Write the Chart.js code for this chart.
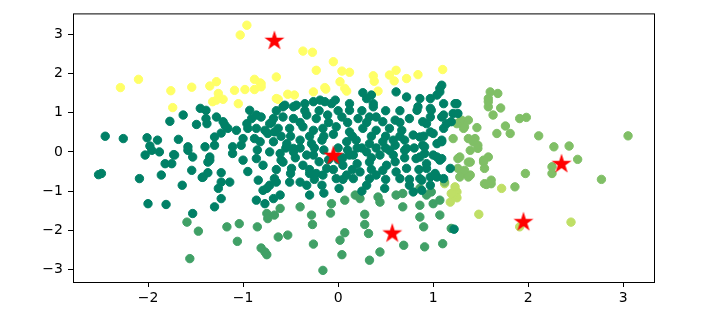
<!DOCTYPE html>
<html>
<head>
<meta charset="utf-8">
<script src="https://cdn.jsdelivr.net/npm/chart.js@4"></script>
<style>
  body { margin: 0; background: #fff; }
  #wrap { width: 720px; height: 315px; }
</style>
</head>
<body>
<div id="wrap"><canvas id="c" width="720" height="315"></canvas></div>
<script>
// k-means clusters, points as [x, y]
const yellowPts = [
  [-0.96,3.23],[-1.03,2.98],[-2.10,1.85],[-2.29,1.64],[-1.76,1.56],[-1.54,1.65],[-1.35,1.68],[-1.28,1.79],
  [-1.26,1.49],[-1.21,1.34],[-1.32,1.28],[-1.74,1.13],[-1.09,1.57],[-0.98,1.59],[-1.05,1.23],[-0.88,1.85],
  [-0.82,1.76],[-0.88,1.59],[-0.81,1.66],[-0.37,2.57],[-0.27,2.54],[-0.05,2.30],[-0.23,2.08],[-0.65,1.91],
  [-0.81,1.74],[0.04,2.06],[0.12,2.03],[0.02,1.79],[0.07,1.62],[0.09,1.55],[-0.13,1.60],[-0.26,1.53],
  [-0.53,1.47],[-0.46,1.45],[-0.63,1.34],[0.37,1.94],[0.38,1.80],[0.42,1.55],[0.54,1.96],[0.61,2.08],
  [0.59,1.81],[0.72,1.87],[0.84,1.97],[1.10,2.10],[-1.28,1.32],[-0.65,1.36],[-0.14,1.64]
];
const darkPts = [
  [-1.45,1.11],[-1.39,1.06],[-1.63,0.94],[-1.77,0.78],[-1.49,0.70],[-1.39,0.85],[-1.28,0.89],[-1.38,0.72],
  [-1.21,0.77],[-0.93,1.06],[-0.86,0.94],[-0.91,0.85],[-0.96,0.72],[-0.86,0.60],[-0.72,0.72],[-1.16,0.60],
  [-1.07,0.55],[-1.30,0.38],[-1.23,0.48],[-1.00,0.34],[-2.45,0.40],[-2.26,0.34],[-2.01,0.36],[-1.90,0.30],
  [-1.68,0.32],[-1.98,0.15],[-1.58,0.13],[-1.40,0.13],[-1.30,0.17],[-1.11,0.13],[-1.02,0.17],[-0.82,0.26],
  [-0.74,0.47],[-1.19,0.68],[-0.95,0.60],[-0.88,0.34],[-0.68,0.85],[-0.67,0.51],[-2.03,-0.08],[-1.88,0.00],
  [-1.72,-0.08],[-1.53,-0.13],[-1.35,-0.13],[-1.37,-0.26],[-1.11,-0.04],[-1.00,-0.21],[-0.86,-0.17],[-0.79,-0.34],
  [-0.72,0.00],[-1.82,-0.30],[-1.75,-0.30],[-1.54,-0.47],[-1.42,-0.64],[-1.37,-0.53],[-1.23,-0.53],[-1.23,-0.77],
  [-1.14,-0.77],[-2.49,-0.55],[-2.52,-0.58],[-2.09,-0.68],[-1.86,-0.59],[-1.64,-0.85],[-1.26,-0.93],[-1.23,-1.19],
  [-1.30,-1.40],[-2.00,-1.32],[-1.81,-1.34],[-1.53,-1.57],[-0.84,-0.72],[-0.79,-0.98],[-0.72,-0.85],[-0.68,-1.19],
  [-0.86,-1.23],[-0.77,-1.32],[-0.65,-0.77],[-1.96,0.04],[-1.73,-0.07],[-1.58,0.04],[-1.35,-0.21],[-1.43,-0.65],
  [-0.75,-0.93],[-0.67,-0.68],[-0.61,-1.10],[-0.60,-0.21],[-0.49,-0.42],[-0.47,0.09],[-0.40,-0.77],[-0.37,-0.34],
  [-0.30,-1.10],[-0.26,-0.08],[-0.23,-0.55],[-0.17,-0.85],[-0.12,-0.42],[-0.02,-0.68],[0.01,-0.93],[0.05,-0.34],
  [0.12,-0.08],[0.16,-0.68],[0.23,-0.51],[0.30,-0.85],[0.33,-0.26],[0.40,-0.59],[0.49,-0.93],[0.51,-0.34],
  [0.58,-0.08],[0.61,-0.51],[0.65,-0.68],[0.70,0.04],[0.72,-0.42],[0.82,-0.17],[0.86,-0.68],[0.91,-0.04],
  [0.93,-0.42],[1.00,-0.08],[1.09,-0.17],[1.02,-0.55],[1.11,-0.68],[-0.56,1.19],[-0.44,1.19],[-0.35,1.23],
  [-0.19,1.32],[-0.07,1.23],[0.12,1.23],[0.30,1.36],[0.37,1.23],[0.61,1.53],[0.72,1.40],[0.86,1.36],
  [0.97,1.36],[1.07,1.62],[1.04,1.45],[1.11,1.23],[0.83,1.06],[0.97,1.11],[-0.58,0.89],[-0.47,0.85],
  [-0.33,0.94],[-0.23,0.85],[-0.11,0.94],[0.04,0.89],[0.21,0.85],[0.33,0.89],[0.47,0.77],[0.60,0.81],
  [0.75,0.85],[0.89,0.77],[1.11,0.94],[1.19,0.77],[-0.63,0.60],[-0.51,0.60],[-0.37,0.64],[-0.26,0.55],
  [-0.16,0.60],[-0.02,0.64],[0.12,0.51],[0.26,0.60],[0.40,0.55],[0.54,0.60],[0.67,0.55],[0.79,0.43],
  [0.97,0.51],[1.11,0.60],[-0.68,0.26],[-0.54,0.21],[-0.40,0.30],[-0.28,0.21],[-0.17,0.30],[0.09,0.26],
  [0.19,0.30],[0.33,0.21],[0.47,0.26],[0.60,0.17],[0.72,0.09],[0.89,0.17],[1.04,0.21],[-0.61,-0.04],
  [-0.47,0.00],[-0.33,-0.08],[0.16,-0.08],[0.30,0.00],[0.44,-0.08],[0.54,0.04],[0.86,-0.13],[-0.58,-0.26],
  [-0.16,-0.59],[0.09,-0.59],[0.33,-0.68],[0.47,-0.47],[-0.51,-0.77],[-0.33,-0.85],[0.79,-1.02],[0.97,-0.85],
  [1.18,-0.42],[0.26,1.51],[0.35,1.45],[-0.14,1.28],[-0.03,1.32],[-0.26,1.28],[-0.47,1.15],[-0.58,1.15],
  [-0.81,0.89],[0.12,1.06],[0.37,1.15],[0.40,0.89],[0.84,1.15],[0.97,0.89],[-0.77,0.55],[0.86,0.38],
  [0.58,0.30],[1.09,0.30],[1.09,1.70],[1.07,1.53],[1.23,1.23],[1.21,0.98],[0.98,1.06],[0.93,0.72],
  [1.09,0.89],[1.14,0.72],[1.00,0.47],[1.09,0.26],[0.91,0.13],[1.04,-0.13],[1.07,-0.21],[0.93,-0.30],
  [0.97,-0.64],[1.04,-0.64],[0.88,-0.72],[0.88,-0.98],[1.25,1.23],[1.26,0.98],[1.22,-1.97],
  [-0.15,0.05],[0.00,0.10],[-0.05,0.45],[0.10,0.05],[-0.20,-0.25],[0.00,-0.20],[0.20,-0.30],[-0.10,-0.20],
  [0.20,0.10],[0.40,0.10],[0.70,0.30],[0.35,0.40],[-0.50,0.40],[-0.85,0.05],[-0.95,-0.50],[-0.50,-0.55],
  [-0.30,-0.55],[0.60,-0.25],[0.25,-1.00],[-0.15,-1.05],[0.75,-0.85],
  [-0.65,1.05],[-0.35,1.05],[-0.20,1.05],[0.00,1.05],[0.25,1.05],[0.50,1.05],[0.65,1.05],
  [-0.70,0.75],[-0.40,0.75],[-0.10,0.75],[0.10,0.75],[0.30,0.75],[0.65,0.75],
  [-0.60,0.40],[-0.30,0.40],[-0.15,0.40],[0.15,0.40],[0.50,0.40],[0.65,0.40],[0.90,0.40],
  [-0.55,0.10],[-0.40,0.10],[-0.25,0.10],[0.25,0.10],[0.50,0.10],[0.80,0.10],
  [-0.45,-0.15],[0.05,-0.15],[0.35,-0.15],[0.70,-0.15],
  [-0.65,-0.45],[-0.30,-0.45],[-0.05,-0.45],[0.15,-0.45],[0.35,-0.45],[0.85,-0.45],
  [-0.25,-0.70],[0.05,-0.70],[0.50,-0.70],[0.75,-0.70]
];
const mediumPts = [
  [-1.59,-1.79],[-1.47,-2.02],[-1.56,-2.72],[-1.17,-1.91],[-1.04,-1.83],[-1.06,-2.28],[-0.85,-1.91],[-0.75,-1.57],
  [-0.81,-2.45],[-0.75,-2.62],[-0.67,-1.61],[-0.61,-1.44],[-0.74,-1.70],[-0.63,-2.17],[-0.53,-2.12],[-0.77,-2.55],
  [-0.40,-1.40],[-0.28,-1.61],[-0.27,-1.85],[-0.26,-2.35],[-0.16,-3.02],[-0.07,-1.32],[-0.08,-1.56],[0.02,-2.25],
  [0.07,-2.06],[0.04,-2.62],[0.07,-1.23],[0.18,-1.10],[0.23,-1.19],[0.28,-1.59],[0.28,-1.85],[0.32,-2.08],
  [0.33,-2.76],[0.44,-2.55],[0.42,-1.15],[0.44,-1.28],[0.61,-1.10],[0.68,-1.06],[0.68,-1.40],[0.69,-2.38],
  [0.86,-0.93],[0.86,-1.36],[0.86,-1.66],[0.90,-1.91],[0.91,-2.42],[0.98,-1.02],[1.07,-1.61],[1.10,-2.34],
  [1.19,-1.95],[0.93,-1.10],[1.00,-1.32],[1.07,-1.23]
];
const lightPts = [
  [1.60,1.53],[1.68,1.49],[1.58,1.36],[1.58,1.15],[1.71,1.12],[1.63,0.94],[1.91,0.85],[1.98,0.88],
  [1.67,0.47],[1.76,0.66],[1.81,0.47],[2.11,0.41],[3.05,0.41],[2.27,0.13],[2.43,0.15],[1.30,0.81],
  [1.37,0.81],[1.33,0.64],[1.46,0.62],[1.37,0.34],[1.44,0.34],[1.47,0.17],[1.58,1.28],[1.28,0.77],
  [1.32,0.60],[1.21,0.34],[1.42,0.26],[1.39,0.04],[1.28,-0.13],[1.39,-0.26],[1.58,-0.13],[1.53,-0.26],
  [1.54,-0.42],[1.26,-0.42],[1.32,-0.55],[1.39,-0.59],[1.54,-0.81],[1.61,-0.81],[1.86,-0.89],[1.97,-0.55],
  [2.25,-0.38],[1.26,-0.17],[1.37,-0.26],[1.53,-0.21],[1.33,-0.47],[1.28,-0.64],[1.37,-0.64],[1.56,-0.83],
  [1.61,-0.72],[2.52,-0.19],[2.25,-0.55],[2.77,-0.70],[1.12,-0.77],[1.25,0.72],[1.47,0.09]
];
const limePts = [
  [1.72,-0.93],[1.25,-1.02],[1.25,-1.17],[1.48,-1.59],[2.45,-1.79],[1.91,-1.91],[1.12,-0.81],[1.23,-0.98],
  [1.21,-1.10],[1.18,-1.28],[1.19,-1.06],[1.23,-0.89]
];
const centers = [[-0.67,2.83],[-0.05,-0.10],[0.57,-2.08],[2.35,-0.31],[1.95,-1.79]];

const xTicks = [-2, -1, 0, 1, 2, 3];
const yTicks = [-3, -2, -1, 0, 1, 2, 3];

// filled star like matplotlib's '*' marker
const starImg = document.createElement("canvas");
starImg.width = 24;
starImg.height = 24;
(function () {
  const g = starImg.getContext("2d");
  const R = 10.5, r = R * 0.382;
  g.beginPath();
  for (let i = 0; i < 10; i++) {
    const a = -Math.PI / 2 + (i * Math.PI) / 5;
    const rad = i % 2 === 0 ? R : r;
    const px = 12 + rad * Math.cos(a), py = 12 + rad * Math.sin(a);
    i === 0 ? g.moveTo(px, py) : g.lineTo(px, py);
  }
  g.closePath();
  g.fillStyle = "#ff0000";
  g.fill();
})();

const toXY = (arr) => arr.map(([x, y]) => ({ x, y }));
const dot = (pts, col) => ({
  data: toXY(pts),
  backgroundColor: col,
  borderColor: col,
  borderWidth: 1,
  pointRadius: 4.2,
  order: 1,
});

const minus = (v) => (v < 0 ? "\u2212" + Math.abs(v) : String(v));

const frame = {
  id: "frame",
  afterDatasetsDraw(chart) {
    const { ctx, chartArea: a } = chart;
    ctx.save();
    ctx.strokeStyle = "#000";
    ctx.lineWidth = 1;
    ctx.strokeRect(a.left + 0.5, a.top + 0.5, a.right - a.left, a.bottom - a.top);
    ctx.restore();
  },
};

new Chart(document.getElementById("c"), {
  type: "scatter",
  data: {
    datasets: [
      {
        data: toXY(centers),
        pointStyle: starImg,
        pointRadius: 12,
        order: 0,
      },
      dot(darkPts, "#008066"),
      dot(mediumPts, "#40a066"),
      dot(lightPts, "#80bf66"),
      dot(limePts, "#bfdf66"),
      dot(yellowPts, "#ffff66"),
    ],
  },
  options: {
    responsive: false,
    animation: false,
    events: [],
    layout: { padding: { top: 13, right: 66, left: 0, bottom: 0 } },
    plugins: { legend: { display: false }, tooltip: { enabled: false } },
    scales: {
      x: {
        type: "linear",
        min: -2.789,
        max: 3.323,
        afterBuildTicks: (s) => { s.ticks = xTicks.map((v) => ({ value: v })); },
        afterFit: (s) => { s.height = 33; },
        grid: { drawOnChartArea: false, drawTicks: true, tickLength: 5, color: "#000" },
        border: { display: false },
        ticks: {
          callback: minus,
          color: "#000",
          padding: 3,
          font: { family: "DejaVu Sans", size: 14 },
        },
      },
      y: {
        type: "linear",
        min: -3.316,
        max: 3.531,
        afterBuildTicks: (s) => { s.ticks = yTicks.map((v) => ({ value: v })); },
        afterFit: (s) => { s.width = 73; },
        grid: { drawOnChartArea: false, drawTicks: true, tickLength: 5, color: "#000" },
        border: { display: false },
        ticks: {
          callback: minus,
          color: "#000",
          padding: 5,
          font: { family: "DejaVu Sans", size: 14 },
        },
      },
    },
  },
  plugins: [frame],
});
</script>
</body>
</html>
